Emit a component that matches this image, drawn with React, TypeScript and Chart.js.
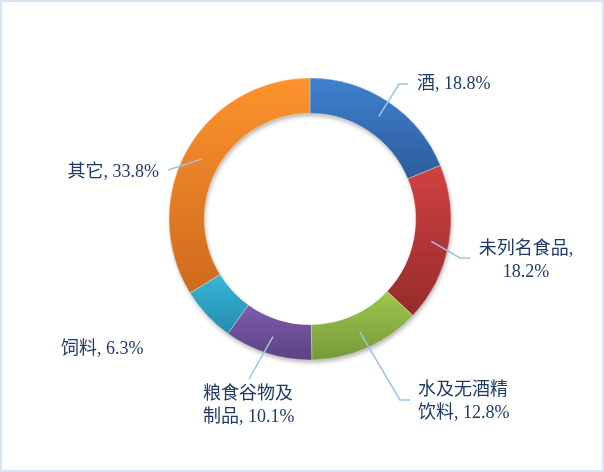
import { useEffect, useRef } from "react";
import { Chart, registerables } from "chart.js";

Chart.register(...registerables);

const categories = ["酒", "未列名食品", "水及无酒精饮料", "粮食谷物及制品", "饲料", "其它"];
const shares = [18.8, 18.2, 12.8, 10.1, 6.3, 33.8];
const labelLines = [
  ["酒, 18.8%"],
  ["未列名食品,", "18.2%"],
  ["水及无酒精", "饮料, 12.8%"],
  ["粮食谷物及", "制品, 10.1%"],
  ["饲料, 6.3%"],
  ["其它, 33.8%"],
];

// top / bottom colour of each slice gradient
const topColors = ["#3f80cf", "#d14141", "#9ec64c", "#7e5caa", "#37b6d7", "#fe932d"];
const bottomColors = ["#2c5d9b", "#962b2b", "#76993a", "#5c4283", "#268dad", "#cd6a1d"];

const RADIUS = 141;
const TEXT = "#1f3a66";
const LEADER = "#9dc3e6";
const FONT = '18px "Liberation Serif", "Noto Sans CJK SC", serif';

// label placement relative to the ring centre
type Place = { elbow?: [number, number]; end?: [number, number]; x: number; y: number; align: CanvasTextAlign };
const places: Place[] = [
  { elbow: [89, -135], end: [98, -135], x: 107, y: -135, align: "left" },
  { elbow: [150, 39], end: [160, 39], x: 216, y: 30, align: "center" },
  { elbow: [90, 181], end: [100, 181], x: 108, y: 171, align: "left" },
  { end: [-61, 160], x: -107, y: 175, align: "left" },
  { x: -249, y: 130, align: "left" },
  { end: [-142, -49], x: -151, y: -47, align: "right" },
];

function sliceGradient(ctx: any) {
  const chart = ctx.chart;
  const area = chart.chartArea;
  const i = ctx.dataIndex;
  if (!area) return topColors[i];
  const cx = (area.left + area.right) / 2;
  const cy = (area.top + area.bottom) / 2;
  const total = shares.reduce((a, b) => a + b, 0);
  let before = 0;
  for (let k = 0; k < i; k++) before += shares[k];
  const a0 = (before / total) * Math.PI * 2 - Math.PI / 2;
  const a1 = ((before + shares[i]) / total) * Math.PI * 2 - Math.PI / 2;
  let yMin = Infinity;
  let yMax = -Infinity;
  const inner = RADIUS * 0.75;
  for (let s = 0; s <= 40; s++) {
    const a = a0 + ((a1 - a0) * s) / 40;
    for (const r of [inner, RADIUS]) {
      const y = cy + r * Math.sin(a);
      yMin = Math.min(yMin, y);
      yMax = Math.max(yMax, y);
    }
  }
  const g = chart.ctx.createLinearGradient(cx, yMin, cx, yMax);
  g.addColorStop(0, topColors[i]);
  g.addColorStop(1, bottomColors[i]);
  return g;
}

const ringShadow = {
  id: "ringShadow",
  beforeDatasetsDraw(chart: any) {
    const arc = chart.getDatasetMeta(0).data[0];
    if (!arc) return;
    const { x, y, outerRadius, innerRadius } = arc.getProps(["x", "y", "outerRadius", "innerRadius"], true);
    const c = chart.ctx;
    c.save();
    c.shadowColor = "rgba(0,0,0,0.35)";
    c.shadowBlur = 5;
    c.shadowOffsetX = 1;
    c.shadowOffsetY = 3;
    c.fillStyle = "#fff";
    c.beginPath();
    c.arc(x, y, outerRadius - 1, 0, Math.PI * 2);
    c.arc(x, y, innerRadius + 1, 0, Math.PI * 2, true);
    c.fill();
    c.restore();
  },
};

const outsideLabels = {
  id: "outsideLabels",
  afterDatasetsDraw(chart: any) {
    const meta = chart.getDatasetMeta(0);
    const c = chart.ctx;
    c.save();
    c.font = FONT;
    c.textBaseline = "middle";
    meta.data.forEach((arc: any, i: number) => {
      const { x: cx, y: cy } = arc.getProps(["x", "y"], true);
      const p = places[i];
      const start = arc.tooltipPosition(true);
      if (p.end) {
        c.strokeStyle = LEADER;
        c.lineWidth = 1.5;
        c.beginPath();
        c.moveTo(start.x, start.y);
        if (p.elbow) c.lineTo(cx + p.elbow[0], cy + p.elbow[1]);
        c.lineTo(cx + p.end[0], cy + p.end[1]);
        c.stroke();
      }
      c.fillStyle = TEXT;
      c.textAlign = p.align;
      labelLines[i].forEach((line, k) => {
        c.fillText(line, cx + p.x, cy + p.y + k * 23);
      });
    });
    c.restore();
  },
};

export default function App() {
  const canvasRef = useRef<HTMLCanvasElement>(null);

  useEffect(() => {
    document.body.style.margin = "0";
    if (!canvasRef.current) return;
    const chart = new Chart(canvasRef.current, {
      type: "doughnut",
      data: {
        labels: categories,
        datasets: [
          {
            data: shares,
            backgroundColor: sliceGradient,
            borderWidth: 0.5,
            borderColor: "rgba(255,255,255,0.6)",
          },
        ],
      },
      options: {
        animation: false,
        responsive: true,
        maintainAspectRatio: false,
        radius: RADIUS,
        cutout: "75%",
        layout: { padding: { left: 16, right: 0, top: 0, bottom: 34 } },
        plugins: {
          legend: { display: false },
          tooltip: { enabled: false },
        },
      },
      plugins: [ringShadow, outsideLabels],
    });
    return () => chart.destroy();
  }, []);

  return (
    <div
      style={{
        width: 604,
        height: 472,
        boxSizing: "border-box",
        border: "2px solid #d6e4f4",
        background: "#fff",
      }}
    >
      <div style={{ position: "relative", width: 600, height: 468 }}>
        <canvas ref={canvasRef} />
      </div>
    </div>
  );
}
